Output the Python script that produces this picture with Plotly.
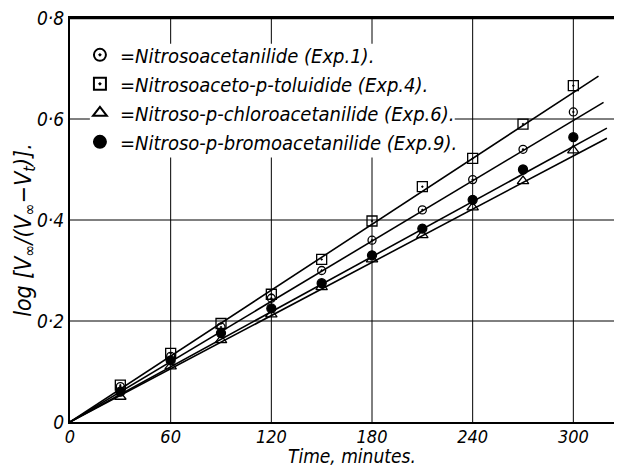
import plotly.graph_objects as go

# ---- data ----
times = [30, 60, 90, 120, 150, 180, 210, 240, 270, 300]
exp1_acetanilide = [0.070, 0.130, 0.188, 0.245, 0.300, 0.360, 0.420, 0.480, 0.540, 0.614]
exp4_toluidide = [0.073, 0.136, 0.195, 0.253, 0.322, 0.398, 0.466, 0.522, 0.590, 0.666]
exp6_chloro = [0.050, 0.110, 0.162, 0.213, 0.267, 0.322, 0.370, 0.425, 0.477, 0.538]
exp9_bromo = [0.060, 0.122, 0.176, 0.225, 0.275, 0.330, 0.383, 0.440, 0.500, 0.564]

# fitted straight lines (start at origin) : end points
line_start = [0, 0]
line_end_time = {"exp1": 318, "exp4": 315, "exp6": 320, "exp9": 320}
line_end_value = {"exp1": 0.633, "exp4": 0.685, "exp6": 0.562, "exp9": 0.582}

names = {
    "exp1": "=<i>Nitrosoacetanilide (Exp.1).</i>",
    "exp4": "=<i>Nitrosoaceto-p-toluidide (Exp.4).</i>",
    "exp6": "=<i>Nitroso-p-chloroacetanilide (Exp.6).</i>",
    "exp9": "=<i>Nitroso-p-bromoacetanilide (Exp.9).</i>",
}
values = {"exp1": exp1_acetanilide, "exp4": exp4_toluidide,
          "exp6": exp6_chloro, "exp9": exp9_bromo}
symbols = {"exp1": "circle-open-dot", "exp4": "square-open-dot",
           "exp6": "triangle-up-open", "exp9": "circle"}
sizes = {"exp1": 8, "exp4": 10, "exp6": 10, "exp9": 9}

x_ticks = [0, 60, 120, 180, 240, 300]
x_grid = [60, 120, 180, 240, 300]
y_ticks = [0, 0.2, 0.4, 0.6, 0.8]
y_grid = [0.2, 0.4, 0.6]
y_tick_labels = ["0", "0·2", "0·4", "0·6", "0·8"]

FONT = "DejaVu Sans Condensed, DejaVu Sans, sans-serif"

fig = go.Figure()
for gx in x_grid:
    fig.add_vline(x=gx, line=dict(color="black", width=1), layer="below")
for gy in y_grid:
    fig.add_hline(y=gy, line=dict(color="black", width=1), layer="below")
# top frame line
fig.add_hline(y=y_ticks[-1], line=dict(color="black", width=2.5), layer="above")
# blank area behind the key text (grid lines are broken there)
fig.add_shape(type="rect", xref="paper", yref="paper",
              x0=0.036, x1=0.697, y0=0.655, y1=0.936,
              fillcolor="white", line=dict(width=0), layer="below")

for key in ["exp1", "exp4", "exp6", "exp9"]:
    fig.add_trace(go.Scatter(
        x=[line_start[0], line_end_time[key]],
        y=[line_start[1], line_end_value[key]],
        mode="lines", line=dict(color="black", width=1.6),
        showlegend=False, hoverinfo="skip"))
for key in ["exp1", "exp4", "exp6", "exp9"]:
    fig.add_trace(go.Scatter(
        x=times, y=values[key], mode="markers", name=names[key],
        marker=dict(symbol=symbols[key], size=sizes[key], color="black",
                    line=dict(color="black", width=1.3))))

fig.update_layout(
    width=614, height=460,
    margin=dict(l=62, r=0, t=10, b=46),
    paper_bgcolor="white", plot_bgcolor="white",
    font=dict(family=FONT, color="black", size=18),
    legend=dict(x=0.018, y=0.957, xanchor="left", yanchor="top",
                bgcolor="rgba(0,0,0,0)", font=dict(size=20, family=FONT),
                itemsizing="constant", tracegroupgap=0),
    annotations=[
        dict(text="<i>Time, minutes.</i>", xref="paper", yref="paper",
             x=0.511, y=-0.084, xanchor="center", yanchor="middle",
             showarrow=False, font=dict(size=19, family=FONT)),
        dict(text="<i>log [V<sub>∞</sub>/(V<sub>∞</sub>−V<sub>t</sub>)].</i>",
             xref="paper", yref="paper", x=-0.082, y=0.475,
             xanchor="center", yanchor="middle", textangle=-90,
             showarrow=False, font=dict(size=23, family=FONT)),
    ],
)
fig.update_xaxes(
    range=[0, 329], tickvals=x_ticks,
    ticktext=[f"<i>{t}</i>" for t in x_ticks],
    tickfont=dict(size=18), showgrid=False, ticklabelstandoff=-3,
    showline=True, linecolor="black", linewidth=2, mirror=True,
    ticks="", zeroline=False, automargin=False,
)
fig.update_yaxes(
    range=[0, 0.8], tickvals=y_ticks,
    ticktext=[f"<i>{t}</i>" for t in y_tick_labels],
    tickfont=dict(size=19), showgrid=False, ticklabeloverflow="allow",
    showline=True, linecolor="black", linewidth=2,
    ticks="", zeroline=False, automargin=False,
)

fig.write_html("out.html")
